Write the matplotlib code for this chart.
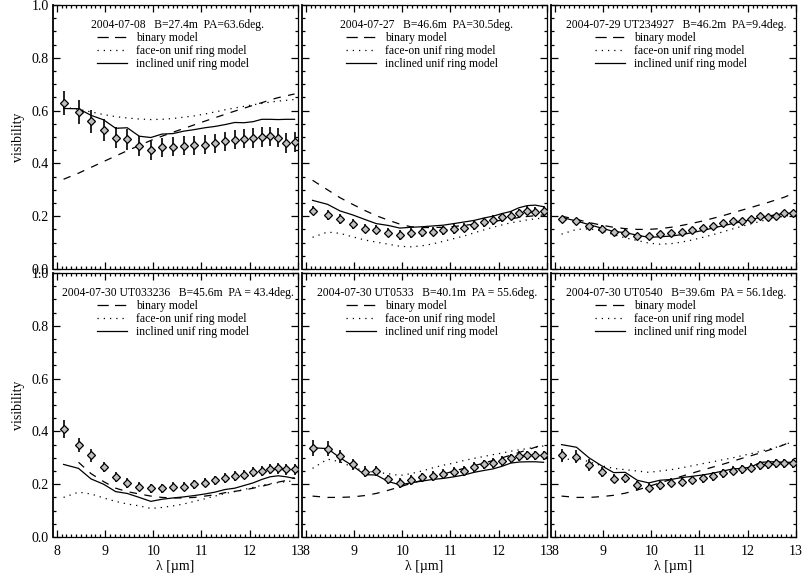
import numpy as np
import matplotlib
matplotlib.use('Agg')
import matplotlib.pyplot as plt
from matplotlib.ticker import MultipleLocator

plt.rcParams['font.family'] = 'Liberation Serif'

# wavelengths of the spectral channels (micron)
wl = [8.14, 8.45, 8.71, 8.97, 9.22, 9.46, 9.71, 9.95, 10.18, 10.41, 10.63, 10.85,
      11.07, 11.28, 11.49, 11.69, 11.88, 12.07, 12.25, 12.42, 12.59, 12.76, 12.93]

titles = [
    '2004-07-08   B=27.4m  PA=63.6deg.',
    '2004-07-27   B=46.6m  PA=30.5deg.',
    '2004-07-29 UT234927   B=46.2m  PA=9.4deg.',
    '2004-07-30 UT033236   B=45.6m  PA = 43.4deg.',
    '2004-07-30 UT0533   B=40.1m  PA = 55.6deg.',
    '2004-07-30 UT0540   B=39.6m  PA = 56.1deg.',
]

# measured visibilities
vis_1 = [0.629, 0.595, 0.560, 0.525, 0.497, 0.492, 0.465, 0.449, 0.461, 0.463, 0.467, 0.468,
         0.470, 0.476, 0.483, 0.490, 0.494, 0.497, 0.501, 0.502, 0.498, 0.478, 0.481]
vis_2 = [0.221, 0.205, 0.190, 0.171, 0.153, 0.149, 0.138, 0.129, 0.136, 0.139, 0.142, 0.146,
         0.151, 0.157, 0.167, 0.177, 0.186, 0.196, 0.202, 0.211, 0.221, 0.217, 0.220]
vis_3 = [0.188, 0.180, 0.164, 0.153, 0.141, 0.138, 0.126, 0.124, 0.132, 0.137, 0.141, 0.148,
         0.156, 0.164, 0.173, 0.182, 0.182, 0.190, 0.200, 0.198, 0.201, 0.211, 0.211]
vis_4 = [0.409, 0.348, 0.309, 0.266, 0.228, 0.204, 0.190, 0.184, 0.185, 0.190, 0.191, 0.200,
         0.206, 0.215, 0.223, 0.231, 0.236, 0.246, 0.251, 0.256, 0.260, 0.256, 0.256]
vis_5 = [0.338, 0.335, 0.306, 0.275, 0.248, 0.250, 0.218, 0.204, 0.216, 0.226, 0.231, 0.238,
         0.246, 0.251, 0.266, 0.275, 0.281, 0.288, 0.298, 0.306, 0.309, 0.309, 0.309]
vis_6 = [0.310, 0.304, 0.272, 0.246, 0.221, 0.222, 0.196, 0.186, 0.196, 0.206, 0.210, 0.216,
         0.222, 0.231, 0.241, 0.251, 0.256, 0.262, 0.272, 0.276, 0.279, 0.279, 0.279]

# errors
err_1 = [0.047, 0.045, 0.043, 0.042, 0.040, 0.040, 0.038, 0.036, 0.036, 0.036, 0.036, 0.036,
         0.036, 0.037, 0.037, 0.037, 0.037, 0.037, 0.037, 0.037, 0.037, 0.037, 0.037]
err_2 = [0.018] * 23
err_3 = [0.012] * 23
err_4 = [0.034, 0.027, 0.025, 0.020, 0.018, 0.018, 0.017, 0.017, 0.017, 0.017, 0.017, 0.017,
         0.017, 0.018, 0.018, 0.018, 0.018, 0.019, 0.019, 0.019, 0.020, 0.020, 0.020]
err_5 = [0.030, 0.028, 0.025, 0.022, 0.020, 0.020, 0.018, 0.018, 0.018, 0.018, 0.018, 0.018,
         0.018, 0.018, 0.018, 0.018, 0.018, 0.018, 0.018, 0.018, 0.018, 0.018, 0.018]
err_6 = [0.025, 0.024, 0.022, 0.020, 0.018, 0.018, 0.017, 0.017, 0.017, 0.017, 0.017, 0.017,
         0.017, 0.017, 0.017, 0.017, 0.017, 0.017, 0.017, 0.017, 0.017, 0.017, 0.017]

# binary model
bin_1 = [0.340, 0.363, 0.385, 0.407, 0.428, 0.448, 0.468, 0.487, 0.503, 0.518, 0.532, 0.546,
         0.560, 0.573, 0.586, 0.598, 0.609, 0.620, 0.630, 0.640, 0.649, 0.656, 0.663]
bin_2 = [0.336, 0.300, 0.270, 0.245, 0.222, 0.202, 0.185, 0.170, 0.160, 0.157, 0.157, 0.158,
         0.161, 0.165, 0.170, 0.175, 0.180, 0.185, 0.190, 0.195, 0.199, 0.202, 0.205]
bin_3 = [0.200, 0.188, 0.176, 0.166, 0.158, 0.153, 0.150, 0.150, 0.153, 0.158, 0.165, 0.173,
         0.182, 0.192, 0.202, 0.213, 0.223, 0.233, 0.243, 0.252, 0.262, 0.272, 0.285]
bin_4 = [np.nan, 0.283, 0.240, 0.210, 0.185, 0.172, 0.163, 0.155, 0.150, 0.148, 0.148, 0.150,
         0.155, 0.160, 0.168, 0.173, 0.178, 0.185, 0.192, 0.200, 0.208, 0.214, 0.225]
bin_5 = [0.155, 0.150, 0.150, 0.152, 0.157, 0.165, 0.177, 0.190, 0.203, 0.215, 0.227, 0.238,
         0.250, 0.260, 0.270, 0.280, 0.290, 0.300, 0.310, 0.320, 0.330, 0.340, 0.350]
bin_6 = [0.155, 0.150, 0.150, 0.153, 0.158, 0.166, 0.178, 0.192, 0.205, 0.218, 0.230, 0.242,
         0.254, 0.265, 0.276, 0.287, 0.298, 0.308, 0.318, 0.328, 0.338, 0.350, 0.365]

# face-on uniform ring model
face_1 = [0.613, 0.605, 0.595, 0.585, 0.577, 0.572, 0.568, 0.566, 0.567, 0.570, 0.575, 0.580,
          0.587, 0.595, 0.603, 0.610, 0.616, 0.622, 0.627, 0.632, 0.636, 0.639, 0.642]
face_2 = [0.120, 0.140, 0.135, 0.122, 0.110, 0.102, 0.094, 0.086, 0.084, 0.088, 0.095, 0.105,
          0.115, 0.125, 0.137, 0.148, 0.158, 0.167, 0.175, 0.180, 0.186, 0.190, 0.193]
face_3 = [0.132, 0.150, 0.152, 0.145, 0.130, 0.118, 0.108, 0.098, 0.094, 0.096, 0.102, 0.110,
          0.120, 0.130, 0.141, 0.152, 0.162, 0.171, 0.180, 0.188, 0.195, 0.200, 0.205]
face_4 = [0.150, 0.170, 0.163, 0.148, 0.135, 0.125, 0.118, 0.108, 0.112, 0.118, 0.125, 0.135,
          0.145, 0.155, 0.165, 0.172, 0.180, 0.188, 0.196, 0.202, 0.206, 0.210, 0.213]
face_5 = [0.260, 0.295, 0.285, 0.265, 0.250, 0.245, 0.240, 0.233, 0.240, 0.250, 0.262, 0.272,
          0.280, 0.290, 0.298, 0.305, 0.312, 0.318, 0.325, 0.330, 0.335, 0.340, 0.345]
face_6 = [0.290, 0.300, 0.285, 0.270, 0.260, 0.255, 0.250, 0.245, 0.250, 0.255, 0.262, 0.270,
          0.278, 0.285, 0.293, 0.300, 0.308, 0.316, 0.324, 0.332, 0.340, 0.350, 0.360]

# inclined uniform ring model
incl_1 = [0.608, 0.607, 0.582, 0.565, 0.533, 0.535, 0.503, 0.498, 0.511, 0.513, 0.522, 0.528,
          0.535, 0.540, 0.547, 0.555, 0.554, 0.558, 0.567, 0.567, 0.566, 0.567, 0.567]
incl_2 = [0.260, 0.245, 0.220, 0.205, 0.188, 0.172, 0.165, 0.155, 0.158, 0.160, 0.163, 0.166,
          0.172, 0.178, 0.184, 0.193, 0.200, 0.210, 0.218, 0.232, 0.240, 0.242, 0.236]
incl_3 = [0.195, 0.182, 0.168, 0.155, 0.142, 0.138, 0.128, 0.120, 0.122, 0.125, 0.130, 0.138,
          0.146, 0.155, 0.164, 0.172, 0.180, 0.187, 0.195, 0.200, 0.206, 0.210, 0.212]
incl_4 = [0.275, 0.260, 0.220, 0.200, 0.172, 0.165, 0.150, 0.135, 0.143, 0.148, 0.152, 0.157,
          0.163, 0.170, 0.180, 0.185, 0.195, 0.205, 0.218, 0.228, 0.232, 0.228, 0.222]
incl_5 = [0.338, 0.335, 0.300, 0.270, 0.236, 0.235, 0.210, 0.198, 0.205, 0.212, 0.218, 0.222,
          0.228, 0.235, 0.245, 0.252, 0.258, 0.268, 0.280, 0.284, 0.285, 0.285, 0.283]
incl_6 = [0.350, 0.340, 0.300, 0.270, 0.244, 0.245, 0.215, 0.205, 0.215, 0.218, 0.225, 0.230,
          0.235, 0.242, 0.250, 0.258, 0.260, 0.265, 0.282, 0.285, 0.285, 0.283, 0.283]

vis = [vis_1, vis_2, vis_3, vis_4, vis_5, vis_6]
err = [err_1, err_2, err_3, err_4, err_5, err_6]
binary = [bin_1, bin_2, bin_3, bin_4, bin_5, bin_6]
faceon = [face_1, face_2, face_3, face_4, face_5, face_6]
incl = [incl_1, incl_2, incl_3, incl_4, incl_5, incl_6]

DASH = (6, 6)
DOT = (1, 4)

fig = plt.figure(figsize=(8.05, 5.8), dpi=100)

lefts = [0.0658, 0.3751, 0.6844]
bottoms = [0.5362, 0.0741]
w, h = 0.3043, 0.4552

for i in range(6):
    row, col = divmod(i, 3)
    ax = fig.add_axes([lefts[col], bottoms[row], w, h])

    ax.plot(wl, binary[i], color='k', lw=0.9, dashes=DASH)
    ax.plot(wl, faceon[i], color='k', lw=0.9, dashes=DOT)
    ax.plot(wl, incl[i], color='k', lw=0.9)
    ax.errorbar(wl, vis[i], yerr=err[i], fmt='D', ms=4.2, mfc='0.75', mec='k',
                mew=0.9, ecolor='k', elinewidth=1.2, capsize=0, zorder=5)

    # legend as in the original figure
    leg_lines = [ax.plot([], [], color='k', lw=0.9, dashes=(9, 5))[0],
                 ax.plot([], [], color='k', lw=0.9, dashes=DOT)[0],
                 ax.plot([], [], color='k', lw=0.9)[0]]
    ax.legend(leg_lines, ['binary model', 'face-on unif ring model',
                          'inclined unif ring model'],
              loc='upper left', bbox_to_anchor=(0.18, 0.897), frameon=False,
              fontsize=8.4, handlelength=2.6, handletextpad=0.7,
              labelspacing=0.08, borderpad=0, borderaxespad=0)
    ax.text(0.51, 0.926, titles[i], transform=ax.transAxes, ha='center',
            va='center', fontsize=8.4)

    ax.set_xlim(7.92, 13.0)
    ax.set_ylim(0.0, 1.0)
    ax.xaxis.set_major_locator(MultipleLocator(1))
    ax.xaxis.set_minor_locator(MultipleLocator(0.1))
    ax.yaxis.set_major_locator(MultipleLocator(0.2))
    ax.yaxis.set_minor_locator(MultipleLocator(0.05))
    ax.tick_params(which='both', direction='in', top=True, right=True,
                   labelsize=10, width=0.9)
    ax.tick_params(axis='x', pad=6)
    ax.tick_params(axis='y', pad=3)
    ax.tick_params(which='major', length=5)
    ax.tick_params(which='minor', length=2.5)
    for sp in ax.spines.values():
        sp.set_linewidth(0.9)
    ax.spines['left'].set_linewidth(1.3)

    if col == 0:
        ax.yaxis.set_major_formatter(plt.FormatStrFormatter('%.1f'))
        ax.set_ylabel('visibility', fontsize=10, labelpad=5)
    else:
        ax.set_yticklabels([])
    if row == 1:
        ax.set_xticks([8, 9, 10, 11, 12, 13])
        ax.set_xticklabels(['8', '9', '10', '11', '12', '13'])
        ax.set_xlabel('λ [µm]', fontsize=10, labelpad=1)
    else:
        ax.set_xticklabels([])

fig.savefig('out.png', dpi=100)
